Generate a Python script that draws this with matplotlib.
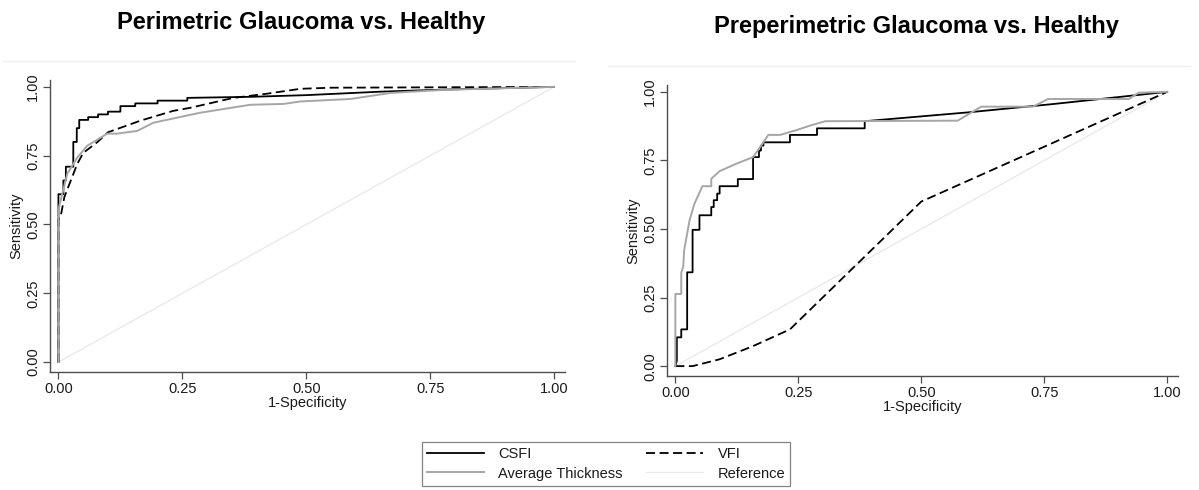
#!/usr/bin/env python3
from __future__ import annotations

import matplotlib

matplotlib.use("Agg")
import matplotlib.pyplot as plt
from matplotlib.lines import Line2D

plt.rcParams["font.family"] = ["Liberation Sans", "DejaVu Sans"]

# ROC points: (1-specificity, sensitivity)
PERI_CSFI_FPR = [0.0, 0.0, 0.01, 0.01, 0.015, 0.015, 0.03, 0.03, 0.037, 0.037, 0.042, 0.042,
                 0.06, 0.06, 0.08, 0.08, 0.10, 0.10, 0.125, 0.125, 0.155, 0.155, 0.20, 0.20,
                 0.26, 0.26, 0.39, 0.50, 0.655, 0.776, 1.0]
PERI_CSFI_TPR = [0.0, 0.61, 0.61, 0.66, 0.66, 0.71, 0.71, 0.80, 0.80, 0.85, 0.85, 0.88,
                 0.88, 0.89, 0.89, 0.90, 0.90, 0.91, 0.91, 0.93, 0.93, 0.94, 0.94, 0.95,
                 0.95, 0.96, 0.964, 0.97, 0.983, 0.99, 1.0]
PERI_VFI_FPR = [0.0, 0.0, 0.004, 0.012, 0.038, 0.05, 0.079, 0.10, 0.165, 0.232, 0.266,
                0.353, 0.42, 0.488, 0.55, 1.0]
PERI_VFI_TPR = [0.0, 0.52, 0.525, 0.60, 0.72, 0.76, 0.80, 0.835, 0.877, 0.913, 0.924,
                0.96, 0.975, 0.993, 0.997, 1.0]
PERI_AT_FPR = [0.0, 0.0, 0.002, 0.018, 0.038, 0.058, 0.085, 0.098, 0.118, 0.159, 0.192,
               0.286, 0.387, 0.454, 0.488, 0.589, 0.67, 0.776, 1.0]
PERI_AT_TPR = [0.0, 0.55, 0.57, 0.685, 0.743, 0.786, 0.815, 0.83, 0.83, 0.84, 0.87,
               0.906, 0.935, 0.938, 0.947, 0.956, 0.978, 0.989, 1.0]

PRE_CSFI_FPR = [0.0, 0.003, 0.003, 0.012, 0.012, 0.024, 0.024, 0.035, 0.035, 0.049, 0.049,
                0.073, 0.073, 0.078, 0.078, 0.085, 0.085, 0.09, 0.09, 0.127, 0.127, 0.158,
                0.158, 0.17, 0.17, 0.174, 0.174, 0.179, 0.179, 0.233, 0.233, 0.288, 0.288,
                0.385, 0.385, 0.594, 0.765, 1.0]
PRE_CSFI_TPR = [0.0, 0.02, 0.105, 0.105, 0.134, 0.134, 0.342, 0.342, 0.497, 0.497, 0.55,
                0.55, 0.58, 0.58, 0.605, 0.605, 0.629, 0.629, 0.656, 0.656, 0.682, 0.682,
                0.762, 0.762, 0.786, 0.786, 0.804, 0.804, 0.816, 0.816, 0.843, 0.843, 0.867,
                0.867, 0.893, 0.925, 0.955, 1.0]
PRE_VFI_FPR = [0.0, 0.035, 0.09, 0.158, 0.233, 0.5, 1.0]
PRE_VFI_TPR = [0.0, 0.0, 0.025, 0.073, 0.134, 0.60, 1.0]
PRE_AT_FPR = [0.0, 0.0, 0.012, 0.012, 0.016, 0.018, 0.029, 0.039, 0.055, 0.073, 0.073,
              0.09, 0.124, 0.158, 0.179, 0.189, 0.213, 0.247, 0.274, 0.305, 0.574, 0.622,
              0.727, 0.758, 0.922, 0.942, 1.0]
PRE_AT_TPR = [0.0, 0.263, 0.263, 0.34, 0.363, 0.424, 0.533, 0.593, 0.656, 0.656, 0.683,
              0.711, 0.738, 0.762, 0.816, 0.843, 0.843, 0.861, 0.877, 0.893, 0.895, 0.946,
              0.946, 0.974, 0.974, 0.997, 1.0]

TICKS = [0.0, 0.25, 0.5, 0.75, 1.0]
TICK_LABELS = ["0.00", "0.25", "0.50", "0.75", "1.00"]
LABELS = ["CSFI", "VFI", "Average Thickness", "Reference"]

CSFI_STYLE = dict(color="black", lw=1.3, ls="-")
VFI_STYLE = dict(color="black", lw=1.3, ls=(0, (5, 2.5)))
AT_STYLE = dict(color="#a6a6a6", lw=1.4, ls="-")
REF_STYLE = dict(color="#e8e8e8", lw=0.9, ls="-")


def draw_panel(ax, csfi, vfi, at) -> None:
    ax.plot([0, 1], [0, 1], **REF_STYLE)
    ax.plot(*csfi, **CSFI_STYLE)
    ax.plot(*vfi, **VFI_STYLE)
    ax.plot(*at, **AT_STYLE)
    ax.set_xlim(-0.017, 1.022)
    ax.set_ylim(-0.036, 1.025)
    ax.set_xticks(TICKS, TICK_LABELS)
    ax.set_yticks(TICKS, TICK_LABELS)
    for side in ("top", "right"):
        ax.spines[side].set_visible(False)
    for side in ("left", "bottom"):
        ax.spines[side].set_color("#4d4d4d")
        ax.spines[side].set_linewidth(1.0)
    ax.tick_params(colors="#4d4d4d", labelcolor="#1a1a1a", labelsize=10.5,
                   length=5, width=0.9, pad=2)
    for lab in ax.get_yticklabels():
        lab.set_rotation(90)
        lab.set_va("center")
    ax.set_xlabel("1-Specificity", fontsize=10.5, labelpad=0, color="#1a1a1a")
    ax.set_ylabel("Sensitivity", fontsize=10.5, labelpad=2, color="#1a1a1a")


def main() -> None:
    fig = plt.figure(figsize=(11.99, 4.90), dpi=100)
    W, H = 1199, 490

    ax1 = fig.add_axes([50 / W, 1 - 372 / H, 515 / W, 292 / H])
    draw_panel(ax1, (PERI_CSFI_FPR, PERI_CSFI_TPR), (PERI_VFI_FPR, PERI_VFI_TPR),
               (PERI_AT_FPR, PERI_AT_TPR))
    ax2 = fig.add_axes([667 / W, 1 - 376 / H, 511 / W, 291 / H])
    draw_panel(ax2, (PRE_CSFI_FPR, PRE_CSFI_TPR), (PRE_VFI_FPR, PRE_VFI_TPR),
               (PRE_AT_FPR, PRE_AT_TPR))

    fig.text(301 / W, 1 - 22 / H, "Perimetric Glaucoma vs. Healthy", fontsize=17,
             fontweight="bold", ha="center", va="center")
    fig.text(916 / W, 1 - 27 / H, "Preperimetric Glaucoma vs. Healthy", fontsize=17,
             fontweight="bold", ha="center", va="center")

    # faint separators under the titles
    fig.add_artist(Line2D([3 / W, 575 / W], [1 - 61 / H] * 2, color="#efefef", lw=1))
    fig.add_artist(Line2D([608 / W, 1190 / W], [1 - 66 / H] * 2, color="#efefef", lw=1))

    handles = [
        Line2D([], [], **CSFI_STYLE),
        Line2D([], [], **AT_STYLE),
        Line2D([], [], **VFI_STYLE),
        Line2D([], [], **REF_STYLE),
    ]
    labels = [LABELS[0], LABELS[2], LABELS[1], LABELS[3]]
    leg = fig.legend(handles, labels, ncol=2, loc="center",
                     bbox_to_anchor=(606 / W, 1 - 464 / H), fontsize=10.5,
                     frameon=True, fancybox=False, edgecolor="#666666",
                     handlelength=3.9, handletextpad=1.0, columnspacing=1.6,
                     borderpad=0.35, labelspacing=0.35)
    leg.get_frame().set_linewidth(0.9)
    for t in leg.get_texts():
        t.set_color("#1a1a1a")

    fig.savefig("out.png", dpi=100)


if __name__ == "__main__":
    main()
